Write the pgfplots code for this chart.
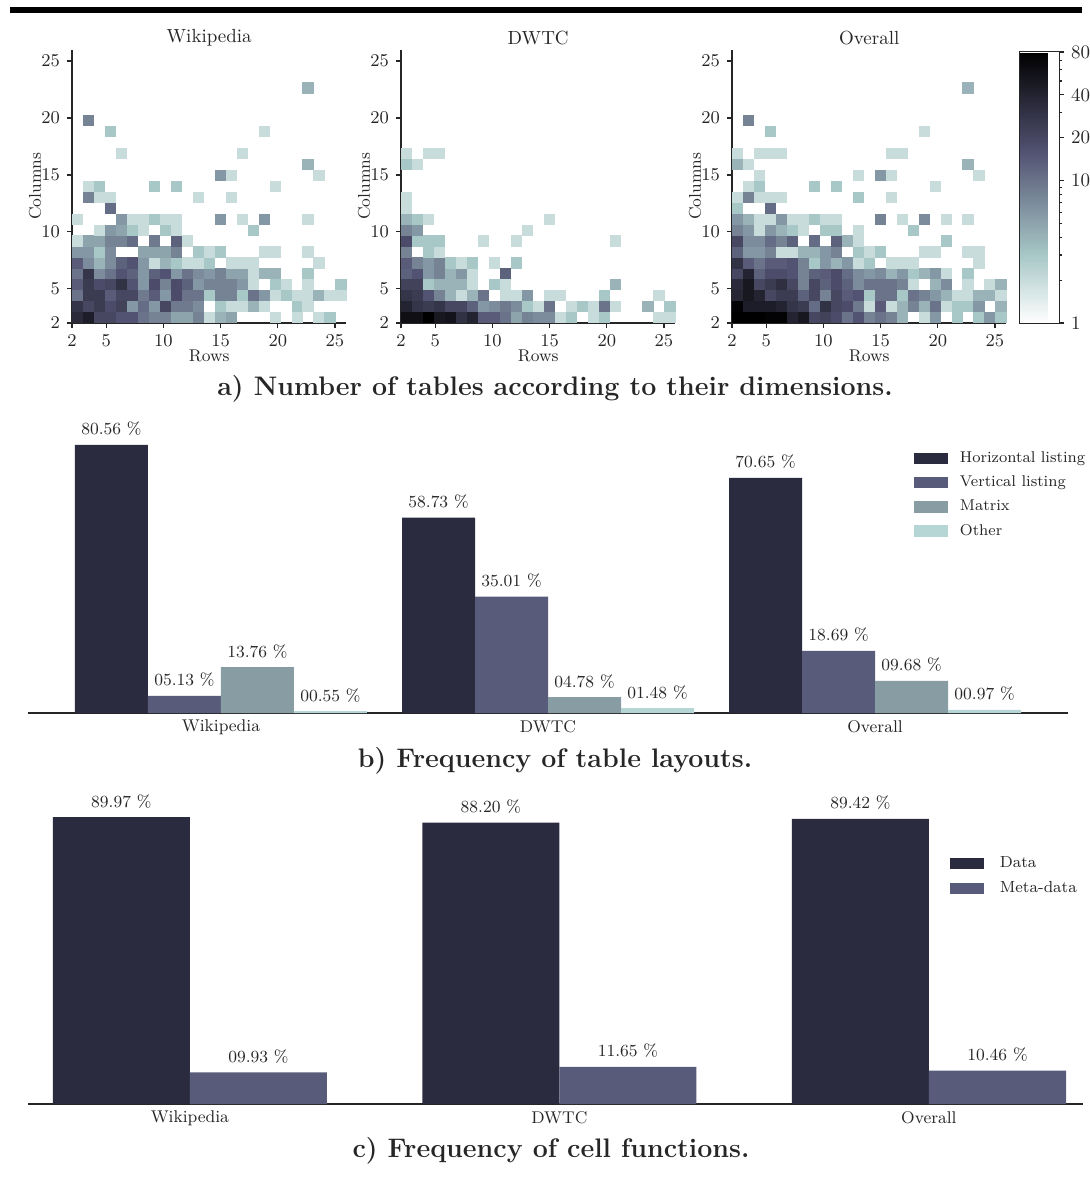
\documentclass[border=0pt]{standalone}
\usepackage{pgfplots}
\usepackage{pgfplotstable}
\pgfplotsset{compat=1.18}
\definecolor{cH}{HTML}{2B2B40}
\definecolor{cV}{HTML}{595B7A}
\definecolor{cM}{HTML}{889CA3}
\definecolor{cO}{HTML}{B6D6D6}
\definecolor{txt}{HTML}{262626}

\pgfplotstableread[row sep=\\]{
k j n\\
0 0 35\\ 1 0 45\\ 2 0 20\\ 3 0 20\\ 4 0 16\\ 5 0 16\\ 6 0 10\\ 7 0 8\\ 8 0 8\\ 9 0 5\\ 10 0 5\\ 11 0 8\\ 12 0 2\\ 13 0 4\\ 14 0 5\\ 18 0 2\\ 20 0 2\\ 22 0 2\\ 23 0 3\\
0 1 28\\ 1 1 20\\ 2 1 25\\ 3 1 18\\ 4 1 22\\ 5 1 6\\ 6 1 11\\ 7 1 6\\ 8 1 20\\ 9 1 9\\ 10 1 9\\ 11 1 7\\ 13 1 3\\ 14 1 2\\ 15 1 2\\ 16 1 4\\ 17 1 2\\ 20 1 3\\ 21 1 2\\
0 2 10\\ 1 2 25\\ 2 2 25\\ 3 2 14\\ 4 2 20\\ 5 2 20\\ 6 2 9\\ 7 2 14\\ 8 2 6\\ 9 2 18\\ 10 2 10\\ 11 2 10\\ 12 2 3\\ 13 2 8\\ 14 2 8\\ 15 2 3\\ 16 2 10\\ 17 2 6\\ 18 2 2\\ 19 2 3\\ 20 2 2\\ 21 2 2\\ 22 2 4\\ 23 2 2\\ 24 2 2\\
0 3 14\\ 1 3 25\\ 2 3 18\\ 3 3 20\\ 4 3 30\\ 5 3 16\\ 6 3 6\\ 7 3 18\\ 8 3 8\\ 9 3 18\\ 10 3 13\\ 11 3 6\\ 12 3 8\\ 13 3 8\\ 14 3 8\\ 15 3 6\\ 16 3 2\\ 18 3 3\\ 19 3 2\\ 21 3 2\\ 24 3 3\\
0 4 10\\ 1 4 28\\ 2 4 7\\ 3 4 10\\ 4 4 16\\ 5 4 13\\ 6 4 6\\ 7 4 13\\ 8 4 16\\ 9 4 6\\ 10 4 10\\ 11 4 7\\ 12 4 6\\ 13 4 8\\ 14 4 5\\ 15 4 5\\ 16 4 2\\ 17 4 4\\ 18 4 4\\ 21 4 3\\
0 5 14\\ 1 5 7\\ 2 5 4\\ 3 5 7\\ 4 5 13\\ 5 5 16\\ 6 5 6\\ 7 5 2\\ 8 5 4\\ 9 5 3\\ 10 5 2\\ 11 5 2\\ 12 5 3\\ 14 5 2\\ 15 5 2\\ 16 5 2\\ 22 5 2\\
0 6 6\\ 1 6 6\\ 2 6 3\\ 3 6 7\\ 6 6 5\\ 7 6 5\\ 8 6 5\\ 9 6 8\\ 11 6 3\\ 12 6 2\\ 13 6 3\\ 17 6 2\\ 18 6 2\\ 21 6 2\\
0 7 2\\ 1 7 5\\ 2 7 5\\ 3 7 8\\ 4 7 8\\ 5 7 11\\ 7 7 9\\ 9 7 13\\ 10 7 2\\
2 8 2\\ 3 8 6\\ 4 8 5\\ 5 8 3\\ 6 8 2\\ 8 8 3\\ 9 8 2\\ 16 8 3\\
0 9 2\\ 4 9 6\\ 5 9 2\\ 6 9 2\\ 7 9 3\\ 8 9 2\\ 9 9 2\\ 13 9 6\\ 15 9 2\\ 17 9 6\\ 21 9 2\\
3 10 11\\
1 11 8\\ 2 11 2\\ 3 11 2\\ 11 11 2\\ 14 11 2\\
1 12 2\\ 2 12 3\\ 7 12 3\\ 9 12 3\\ 18 12 2\\
13 13 6\\ 14 13 2\\ 22 13 2\\
21 14 4\\
4 15 2\\ 15 15 2\\
3 17 3\\ 17 17 2\\
1 18 8\\
21 21 4\\
}\wiki

\pgfplotstableread[row sep=\\]{
k j n\\
0 0 60\\ 1 0 60\\ 2 0 80\\ 3 0 50\\ 4 0 55\\ 5 0 30\\ 6 0 40\\ 7 0 14\\ 8 0 14\\ 9 0 10\\ 10 0 5\\ 11 0 8\\ 12 0 7\\ 13 0 7\\ 14 0 2\\ 15 0 3\\ 17 0 2\\ 18 0 3\\ 23 0 2\\ 24 0 2\\
0 1 40\\ 1 1 28\\ 2 1 25\\ 3 1 28\\ 4 1 20\\ 5 1 20\\ 6 1 13\\ 7 1 6\\ 8 1 7\\ 9 1 9\\ 10 1 7\\ 11 1 3\\ 12 1 2\\ 13 1 10\\ 15 1 2\\ 16 1 3\\ 17 1 2\\ 18 1 10\\ 19 1 2\\ 22 1 4\\ 24 1 3\\
0 2 28\\ 1 2 25\\ 2 2 16\\ 3 2 8\\ 4 2 4\\ 5 2 2\\ 6 2 4\\ 7 2 10\\ 9 2 2\\ 10 2 2\\ 11 2 6\\ 13 2 2\\ 14 2 2\\ 18 2 3\\ 23 2 2\\
0 3 22\\ 1 3 22\\ 2 3 3\\ 3 3 4\\ 4 3 4\\ 5 3 4\\ 6 3 2\\ 8 3 3\\ 9 3 2\\ 19 3 4\\
0 4 13\\ 1 4 16\\ 2 4 6\\ 3 4 8\\ 4 4 4\\ 5 4 6\\ 6 4 2\\ 9 4 13\\
0 5 14\\ 1 5 8\\ 2 5 6\\ 3 5 8\\ 4 5 3\\ 5 5 2\\ 6 5 3\\ 8 5 2\\ 10 5 3\\
0 6 8\\ 2 6 3\\ 3 6 2\\
0 7 18\\ 1 7 3\\ 2 7 3\\ 3 7 3\\ 7 7 2\\ 10 7 2\\ 19 7 2\\
0 8 8\\ 1 8 6\\ 11 8 2\\
0 9 4\\ 1 9 3\\ 2 9 2\\ 13 9 2\\
0 10 2\\
0 11 2\\
0 14 3\\ 1 14 2\\
0 15 2\\ 2 15 2\\ 3 15 2\\
}\dwtc

\pgfplotstableread[row sep=\\]{
k j n\\
0 0 80\\ 1 0 80\\ 2 0 80\\ 3 0 75\\ 4 0 75\\ 5 0 40\\ 6 0 50\\ 7 0 20\\ 8 0 22\\ 9 0 18\\ 10 0 10\\ 11 0 16\\ 12 0 8\\ 13 0 10\\ 14 0 8\\ 15 0 4\\ 17 0 2\\ 18 0 6\\ 20 0 3\\ 22 0 3\\ 23 0 6\\ 24 0 3\\
0 1 75\\ 1 1 45\\ 2 1 45\\ 3 1 45\\ 4 1 40\\ 5 1 28\\ 6 1 25\\ 7 1 11\\ 8 1 30\\ 9 1 20\\ 10 1 18\\ 11 1 9\\ 12 1 2\\ 13 1 14\\ 14 1 2\\ 15 1 4\\ 16 1 8\\ 17 1 4\\ 18 1 10\\ 19 1 2\\ 20 1 3\\ 21 1 3\\ 22 1 6\\ 24 1 4\\
0 2 38\\ 1 2 50\\ 2 2 40\\ 3 2 20\\ 4 2 25\\ 5 2 25\\ 6 2 13\\ 7 2 20\\ 8 2 8\\ 9 2 20\\ 10 2 14\\ 11 2 16\\ 12 2 3\\ 13 2 10\\ 14 2 10\\ 15 2 3\\ 16 2 10\\ 17 2 8\\ 18 2 6\\ 19 2 4\\ 20 2 2\\ 21 2 2\\ 22 2 4\\ 23 2 4\\ 24 2 2\\
0 3 35\\ 1 3 50\\ 2 3 20\\ 3 3 25\\ 4 3 32\\ 5 3 20\\ 6 3 8\\ 7 3 20\\ 8 3 13\\ 9 3 18\\ 10 3 13\\ 11 3 7\\ 12 3 10\\ 13 3 10\\ 14 3 10\\ 15 3 8\\ 16 3 2\\ 18 3 4\\ 19 3 7\\ 21 3 2\\ 23 3 2\\ 24 3 4\\
0 4 20\\ 1 4 40\\ 2 4 13\\ 3 4 18\\ 4 4 18\\ 5 4 16\\ 6 4 8\\ 7 4 13\\ 8 4 14\\ 9 4 18\\ 10 4 11\\ 11 4 7\\ 12 4 6\\ 13 4 7\\ 14 4 4\\ 15 4 6\\ 16 4 3\\ 17 4 4\\ 18 4 6\\ 19 4 2\\ 21 4 3\\
0 5 30\\ 1 5 14\\ 2 5 10\\ 3 5 14\\ 4 5 14\\ 5 5 16\\ 6 5 8\\ 7 5 3\\ 8 5 6\\ 9 5 4\\ 10 5 6\\ 11 5 2\\ 12 5 3\\ 14 5 2\\ 15 5 2\\ 16 5 2\\ 22 5 2\\
0 6 13\\ 1 6 6\\ 2 6 6\\ 3 6 8\\ 4 6 2\\ 5 6 2\\ 6 6 4\\ 7 6 4\\ 8 6 6\\ 9 6 8\\ 11 6 3\\ 12 6 2\\ 13 6 3\\ 17 6 2\\ 18 6 2\\ 21 6 2\\ 22 6 2\\
0 7 20\\ 1 7 7\\ 2 7 7\\ 3 7 11\\ 4 7 8\\ 5 7 13\\ 7 7 11\\ 9 7 13\\ 10 7 4\\ 11 7 2\\ 19 7 3\\
0 8 8\\ 1 8 6\\ 2 8 2\\ 3 8 6\\ 4 8 4\\ 5 8 3\\ 6 8 2\\ 8 8 3\\ 9 8 3\\ 11 8 2\\ 16 8 3\\
0 9 6\\ 1 9 4\\ 2 9 2\\ 3 9 2\\ 4 9 6\\ 5 9 2\\ 6 9 2\\ 7 9 3\\ 8 9 2\\ 9 9 2\\ 13 9 8\\ 15 9 2\\ 17 9 7\\ 19 9 2\\ 21 9 2\\
0 10 3\\ 3 10 11\\
0 11 2\\ 1 11 8\\ 2 11 2\\ 3 11 2\\ 4 11 2\\ 11 11 3\\ 14 11 2\\
1 12 2\\ 2 12 3\\ 7 12 3\\ 9 12 3\\ 18 12 2\\
2 13 2\\ 11 13 2\\ 13 13 6\\ 14 13 2\\ 22 13 2\\
0 14 4\\ 1 14 2\\ 21 14 4\\
0 15 2\\ 2 15 2\\ 3 15 2\\ 4 15 2\\ 14 15 2\\ 15 15 2\\
3 17 3\\ 17 17 2\\
1 18 8\\
21 21 4\\
}\overall

\pgfplotsset{
  colormap={boner}{rgb(0cm)=(1,1,1); rgb(0.254cm)=(0.653,0.778,0.778); rgb(0.635cm)=(0.319,0.319,0.444); rgb(1cm)=(0,0,0)},
  hm/.style={
    anchor=south west, scale only axis, width=137.2pt, height=136.7pt,
    xmin=2, xmax=26, ymin=2, ymax=26,
    axis x line*=bottom, axis y line*=left,
    axis line style={-, txt, line width=0.6pt},
    xtick={2,5,10,15,20,25}, ytick={2,5,10,15,20,25},
    tick align=outside, major tick length=2.5pt, tick style={txt, line width=0.6pt},
    tick label style={font=\fontsize{9.5}{11}\selectfont, text=txt},
    xlabel={Rows}, ylabel={Columns},
    label style={font=\fontsize{8.5}{10}\selectfont, text=txt},
    xlabel style={at={(axis description cs:0.5,-0.1207)}, anchor=center},
    ylabel style={at={(axis description cs:-0.1348,0.5)}, anchor=center},
    every axis title shift=0pt,
    title style={at={(axis description cs:0.5,1.0439)}, anchor=center, font=\fontsize{9.5}{11}\selectfont, text=txt},
    colormap name=boner, point meta min=0, point meta max=1.90309,
  },
  cell/.style={scatter, only marks, mark=square*, mark size=2.55pt, line width=0.4pt,
    point meta=explicit,
    scatter/use mapped color={draw=mapped color, fill=mapped color}},
  bars/.style={
    anchor=south west, scale only axis,
    ymin=0, axis x line*=bottom, axis y line=none,
    axis line style={-, txt, line width=0.7pt},
    xtick={0,1,2}, xticklabels={Wikipedia,DWTC,Overall},
    major tick length=0pt,
    xticklabel style={font=\fontsize{8.5}{10}\selectfont, text=txt},
    ybar=0pt, clip=false,
    nodes near coords, point meta=explicit symbolic,
    every node near coord/.append style={font=\fontsize{8.5}{10}\selectfont, text=txt, yshift=1pt},
    legend image code/.code={\fill[##1] (0pt,-2.85pt) rectangle (16.7pt,2.85pt);},
    legend cell align=left,
  },
}

\begin{document}
\begin{tikzpicture}
\path[use as bounding box] (0,0) rectangle (545pt,-591.5pt);
\fill[black] (5pt,-3.3pt) rectangle (541pt,-6.4pt);

\begin{axis}[hm, at={(36pt,-161.5pt)}, title={Wikipedia}]
\addplot[cell] table[x expr={2+0.96*(\thisrow{k}+0.5)}, y expr={2+0.96*(\thisrow{j}+0.5)}, meta expr={log10(\thisrow{n})}] {\wiki};
\end{axis}

\begin{axis}[hm, at={(200.5pt,-161.5pt)}, title={DWTC}]
\addplot[cell] table[x expr={2+0.96*(\thisrow{k}+0.5)}, y expr={2+0.96*(\thisrow{j}+0.5)}, meta expr={log10(\thisrow{n})}] {\dwtc};
\end{axis}

\begin{axis}[hm, at={(366pt,-161.5pt)}, title={Overall},
  colorbar,
  colorbar style={
    at={(parent axis.south east)}, anchor=south west, xshift=-2.2pt,
    width=20pt, height=135.5pt,
    ytick={0,1,1.30103,1.60206,1.90309}, yticklabels={1,10,20,40,80},
    minor ytick={0.30103,0.47712,0.60206,0.69897,0.77815,0.84510,0.90309,0.95424,1.47712,1.69897,1.77815,1.84510},
    ytick pos=right, yticklabel pos=right, tick align=outside,
    major tick length=2.5pt, minor tick length=1.5pt,
    tick style={txt, line width=0.6pt},
    yticklabel style={font=\fontsize{9.5}{11}\selectfont, text=txt},
    axis line style={txt, line width=0.5pt},
  }]
\addplot[cell] table[x expr={2+0.96*(\thisrow{k}+0.5)}, y expr={2+0.96*(\thisrow{j}+0.5)}, meta expr={log10(\thisrow{n})}] {\overall};
\end{axis}

\node[font=\bfseries\fontsize{13.4}{15}\selectfont, text=txt] at (277.5pt,-194.5pt) {a) Number of tables according to their dimensions.};

\begin{axis}[bars, at={(14pt,-356.5pt)}, width=520pt, height=141.4pt,
  xmin=-0.59, xmax=2.59, ymax=85, bar width=0.2232,
  legend style={at={(0.852,0.94)}, anchor=north west, draw=none, fill=none,
    font=\fontsize{7.8}{9.5}\selectfont, text=txt, row sep=1.2pt, inner sep=0pt,
    /tikz/every odd column/.append style={column sep=4pt}},
]
\addplot[fill=cH, draw=none, bar shift=-0.3348] coordinates {(0,80.56) [80.56 \%] (1,58.73) [58.73 \%] (2,70.65) [70.65 \%]};
\addplot[fill=cV, draw=none, bar shift=-0.1116] coordinates {(0,5.13) [05.13 \%] (1,35.01) [35.01 \%] (2,18.69) [18.69 \%]};
\addplot[fill=cM, draw=none, bar shift=0.1116] coordinates {(0,13.76) [13.76 \%] (1,4.78) [04.78 \%] (2,9.68) [09.68 \%]};
\addplot[fill=cO, draw=none, bar shift=0.3348] coordinates {(0,0.55) [00.55 \%] (1,1.48) [01.48 \%] (2,0.97) [00.97 \%]};
\legend{Horizontal listing, Vertical listing, Matrix, Other}
\end{axis}

\node[font=\bfseries\fontsize{13.4}{15}\selectfont, text=txt] at (277.5pt,-380.5pt) {b) Frequency of table layouts.};

\begin{axis}[bars, at={(14pt,-552pt)}, width=527.5pt, height=151.5pt,
  xmin=-0.438, xmax=2.417, ymax=95, bar width=0.371,
  legend style={at={(0.874,0.8317)}, anchor=north west, draw=none, fill=none,
    font=\fontsize{8}{9.5}\selectfont, text=txt, row sep=1.6pt, inner sep=0pt,
    /tikz/every odd column/.append style={column sep=6pt}},
]
\addplot[fill=cH, draw=none, bar shift=-0.1855] coordinates {(0,89.97) [89.97 \%] (1,88.20) [88.20 \%] (2,89.42) [89.42 \%]};
\addplot[fill=cV, draw=none, bar shift=0.1855] coordinates {(0,9.93) [09.93 \%] (1,11.65) [11.65 \%] (2,10.46) [10.46 \%]};
\legend{Data, Meta-data}
\end{axis}

\node[font=\bfseries\fontsize{13.4}{15}\selectfont, text=txt] at (275.5pt,-575.5pt) {c) Frequency of cell functions.};
\end{tikzpicture}
\end{document}
